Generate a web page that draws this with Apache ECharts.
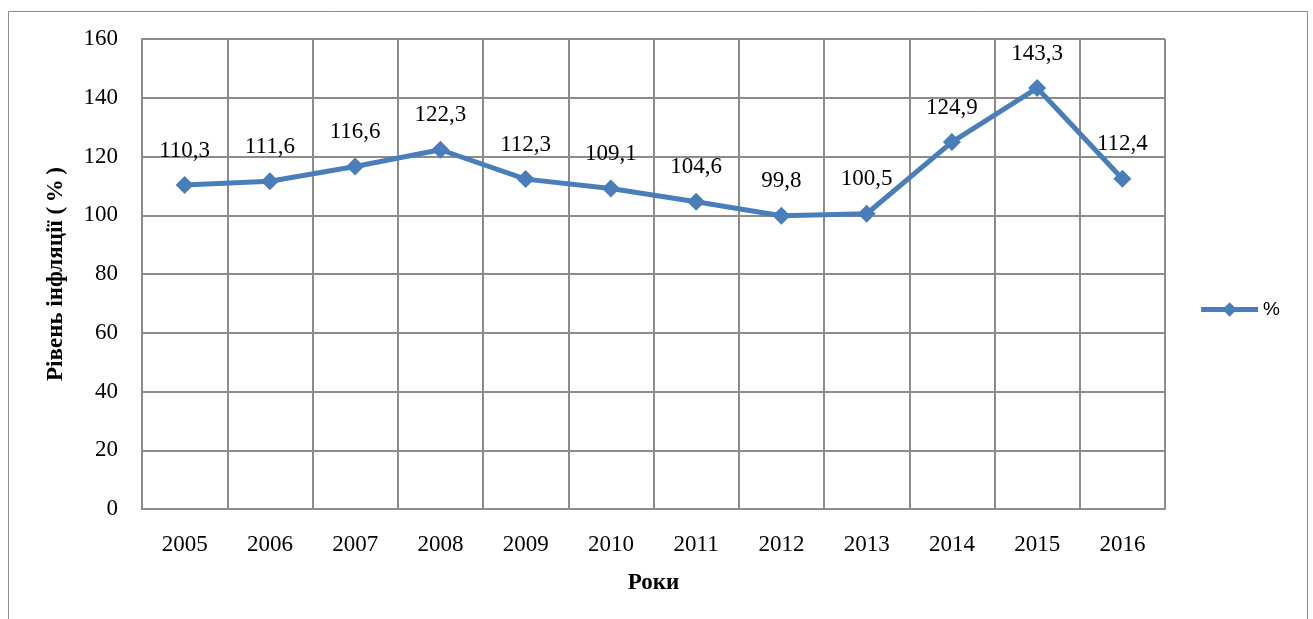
<!DOCTYPE html>
<html lang="uk">
<head>
    <meta charset="UTF-8">
    <title>Рівень інфляції</title>
    <style>
        body { margin: 0; background: #fff; }
    </style>
</head>
<body>
    <div id="chart" style="width: 1313px;height: 619px;"></div>
    <script src="https://cdn.jsdelivr.net/npm/echarts@6/dist/echarts.min.js"></script>
    <script>
        var years = ['2005', '2006', '2007', '2008', '2009', '2010', '2011', '2012', '2013', '2014', '2015', '2016'];
        var inflation = [110.3, 111.6, 116.6, 122.3, 112.3, 109.1, 104.6, 99.8, 100.5, 124.9, 143.3, 112.4];
        var seriesName = '%';

        var chart = echarts.init(document.getElementById('chart'));
        var serif = 'Liberation Serif';
        var option = {
            animation: false,
            graphic: [{
                type: 'rect',
                shape: { x: 8.5, y: 11.5, width: 1299, height: 700 },
                style: { fill: 'none', stroke: '#8c8c8c', lineWidth: 1 }
            }],
            grid: { left: 142, right: 148, top: 39, bottom: 110 },
            legend: {
                right: 28,
                top: 'middle',
                itemWidth: 57,
                itemHeight: 18,
                itemGap: 6,
                lineStyle: { width: 5 },
                textStyle: { fontFamily: 'Liberation Sans', fontSize: 19, color: '#000' },
                data: [seriesName]
            },
            xAxis: {
                type: 'category',
                data: years,
                name: 'Роки',
                nameLocation: 'middle',
                nameGap: 63,
                nameTextStyle: { fontFamily: serif, fontSize: 23, fontWeight: 'bold', color: '#000' },
                axisLine: { lineStyle: { color: '#8c8c8c', width: 2 } },
                axisTick: { show: false },
                axisLabel: { fontFamily: serif, fontSize: 23, color: '#000', margin: 24 },
                splitLine: { show: true, lineStyle: { color: '#8c8c8c', width: 2 } }
            },
            yAxis: {
                type: 'value',
                min: 0,
                max: 160,
                interval: 20,
                name: 'Рівень інфляції (\u2009%\u2009)',
                nameLocation: 'middle',
                nameGap: 74,
                nameTextStyle: { fontFamily: serif, fontSize: 23, fontWeight: 'bold', color: '#000' },
                axisLine: { show: true, lineStyle: { color: '#8c8c8c', width: 2 } },
                axisTick: { show: false },
                axisLabel: { fontFamily: serif, fontSize: 23, color: '#000', margin: 24 },
                splitLine: { lineStyle: { color: '#8c8c8c', width: 2 } }
            },
            series: [{
                name: seriesName,
                type: 'line',
                data: inflation,
                symbol: 'diamond',
                symbolSize: 18,
                color: '#4a7ebb',
                lineStyle: { width: 5, color: '#4a7ebb' },
                label: {
                    show: true,
                    position: 'top',
                    distance: 14,
                    fontFamily: serif,
                    fontSize: 23,
                    color: '#000',
                    formatter: function (p) {
                        return String(p.value).replace('.', ',');
                    }
                }
            }]
        };
        chart.setOption(option);
    </script>
</body>
</html>
